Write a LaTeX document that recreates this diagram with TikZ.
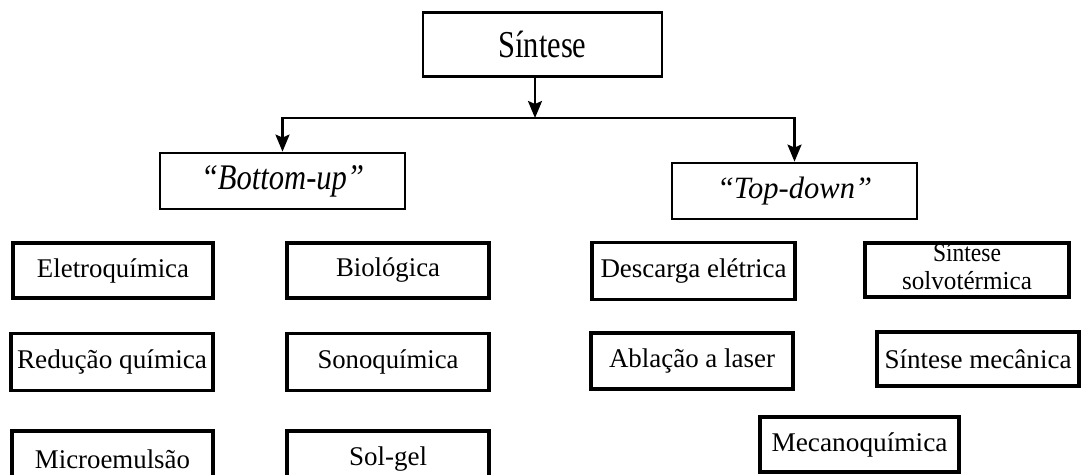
\documentclass[tikz,border=0pt]{standalone}
\usepackage{fontspec}
\setmainfont{Liberation Serif}
\usetikzlibrary{arrows.meta}
\newlength\twlen
\newcommand\tw[2]{\settowidth\twlen{#2}\pgfmathsetmacro\twr{#1/\twlen}\scalebox{\twr}[1]{#2}}
\begin{document}
\begin{tikzpicture}[x=1pt,y=-1pt,
  box/.style={draw, line width=3.2pt, inner sep=0pt, font=\fontsize{27}{30}\selectfont},
  txt/.style={inner sep=0pt, font=\fontsize{26}{28}\selectfont},
  conn/.style={line width=2.4pt, line join=miter},
  arr/.style={conn, -{Stealth[length=17pt,width=14pt,inset=3pt]}}]
\useasboundingbox (0,0) rectangle (1081,474);
\clip (0,0) rectangle (1081,474);

\node[box, line width=2.8pt, minimum width=239pt, minimum height=64pt, font=\fontsize{38}{40}\selectfont] (sin) at (542.5,44.5) {\tw{88}{Síntese}};
\node[box, line width=2.8pt, minimum width=245pt, minimum height=56pt, font=\fontsize{36}{38}\selectfont\itshape] (bu) at (282.5,181) {\tw{163}{“Bottom-up”}};
\node[box, line width=2.8pt, minimum width=245pt, minimum height=56pt, font=\fontsize{31}{34}\selectfont\itshape] (td) at (794.5,191) {\tw{155}{“Top-down”}};

\coordinate (j) at (535,118);
\draw[arr] (sin.south -| j) -- (j);
\draw[arr] (j) -| (bu.north);
\draw[arr] (j) -| (td.north);

\node[box, minimum width=200pt, minimum height=55pt] (eletro) at (113,270.5) {\tw{152}{Eletroquímica}};
\node[box, minimum width=202pt, minimum height=55pt] (bio) at (388,270.5) {\tw{104}{Biológica}};
\node[box, minimum width=202pt, minimum height=57pt] (red) at (112,362) {\tw{190}{Redução química}};
\node[box, minimum width=202pt, minimum height=57pt] (sono) at (388,362) {\tw{141}{Sonoquímica}};
\node[box, minimum width=201pt, minimum height=56pt] (micro) at (112.5,459) {\tw{155}{Microemulsão}};
\node[box, minimum width=202pt, minimum height=56pt] (sol) at (388,459) {\tw{78}{Sol-gel}};

\node[box, minimum width=203pt, minimum height=57pt] (desc) at (693.5,271) {\tw{186}{Descarga elétrica}};
\node[box, minimum width=204pt, minimum height=54pt] (solv) at (967,270) {};
\node[txt, anchor=base] (solv1) at (967,261) {\tw{68}{Síntese}};
\node[txt, anchor=base] (solv2) at (967,289) {\tw{130}{solvotérmica}};
\node[box, minimum width=202pt, minimum height=56pt] (abl) at (692,361) {\tw{166}{Ablação a laser}};
\node[box, minimum width=202pt, minimum height=54pt] (mec) at (978,359) {\tw{187}{Síntese mecânica}};
\node[box, minimum width=199pt, minimum height=55pt] (mecq) at (859.5,444.5) {\tw{176}{Mecanoquímica}};
\end{tikzpicture}
\end{document}
